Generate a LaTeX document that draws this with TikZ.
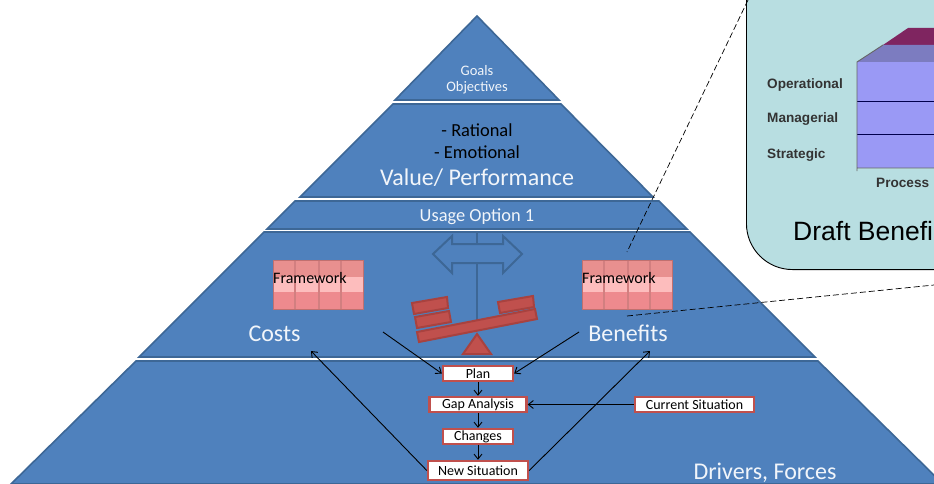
\documentclass[tikz,border=0pt]{standalone}
\usepackage{fontspec}
\setmainfont{Carlito}
\newfontfamily\arialfont{Liberation Sans}
\usetikzlibrary{arrows.meta}
\definecolor{pyrfill}{HTML}{4F81BD}
\definecolor{pyredge}{HTML}{3D6796}
\definecolor{redfill}{HTML}{C0504D}
\definecolor{rededge}{HTML}{A8423F}
\definecolor{tealbox}{HTML}{B8DEE1}
\definecolor{cubefront}{HTML}{9A99F5}
\definecolor{cubetop}{HTML}{7C7CC0}
\definecolor{cubemaroon}{HTML}{7F2560}
\definecolor{rowa}{HTML}{E8908F}
\definecolor{rowb}{HTML}{FDBDBD}
\definecolor{rowc}{HTML}{EE8A8E}
\definecolor{gridline}{HTML}{D27F80}
\definecolor{tableedge}{HTML}{C0706F}
\newcommand{\fsz}[1]{\fontsize{#1}{#1}\selectfont}
\newcommand{\fwtable}[2]{%
  \begin{scope}[shift={(#1,260)}]
    \fill[rowa] (0,0) rectangle (90,17);
    \fill[rowb] (0,17) rectangle (90,32);
    \fill[rowc] (0,32) rectangle (90,49);
    \draw[gridline,line width=1.2pt] (22,0) -- (22,49) (46,0) -- (46,49) (68,0) -- (68,49);
    \draw[tableedge,line width=1pt] (0,0) rectangle (90,49);
  \end{scope}
  \node[fwlabel,anchor=west] (#2) at (#1,278) {Framework};}
\tikzset{
  x=1pt,y=-1pt,
  level/.style={fill=pyrfill,draw=pyredge,line width=1.6pt,line join=miter},
  pale/.style={text=white!92!pyrfill,inner sep=0pt,align=center},
  dark/.style={text=black,inner sep=0pt},
  fwlabel/.style={text=black,inner sep=0pt,font=\fsz{16}},
  stepbox/.style={draw=redfill,fill=white,line width=2.4pt,text=black,inner sep=0pt,font=\fsz{14}},
  conn/.style={draw=black,line width=0.9pt,-{Straight Barb[length=5pt,width=8pt]}},
  redpart/.style={fill=redfill,draw=rededge,line width=2pt,line join=miter},
  signline/.style={draw=pyredge,line width=2pt},
  lead/.style={draw=black,line width=0.7pt,dash pattern=on 6pt off 3pt},
  cubeface/.style={fill=cubefront,draw=none},
  cubeline/.style={draw=#1,line width=0.9pt},
  cubetext/.style={text=black!80,inner sep=0pt,font=\arialfont\bfseries\fsz{13.6}},
}
\begin{document}
\begin{tikzpicture}
\useasboundingbox (0,0) rectangle (934,484);
\clip (0,0) rectangle (934,484);
% pyramid
\draw[level] (477,16) -- (559,100) -- (395,100) -- cycle;
\draw[level] (393,104) -- (561,104) -- (653,197) -- (300,197) -- cycle;
\draw[level] (295,201) -- (659,201) -- (687,229) -- (267,229) -- cycle;
\draw[level] (264,232) -- (690,232) -- (815,357) -- (139,357) -- cycle;
\draw[level] (136,361) -- (818,361) -- (943,484) -- (11,484) -- cycle;
% signpost
\draw[signline] (477,233) -- (477,244) (477,263) -- (477,320);
\draw[signline,line join=miter] (433,254) -- (452,236) -- (452,244) -- (503,244) -- (503,236) -- (522,254) -- (503,273) -- (503,263) -- (452,263) -- (452,273) -- cycle;
% seesaw
\draw[redpart] (412,303) -- (447,297) -- (448,308) -- (414,314) -- cycle;
\draw[redpart] (415,317) -- (449,311) -- (451,322) -- (417,328) -- cycle;
\draw[redpart] (498,302) -- (533,296) -- (534,307) -- (500,313) -- cycle;
\draw[redpart] (417,332) -- (535,309) -- (537,319) -- (419,342) -- cycle;
\draw[redpart] (463,354) -- (477,334) -- (491,354) -- cycle;
% frameworks
\fwtable{273}{fwleft}
\fwtable{582}{fwright}
% texts
\node[pale,font=\fontsize{14.5}{15.5}\selectfont,align=center] (goals) at (477,79.5) {Goals\\Objectives};
\node[dark,font=\fsz{18.4}] (rational) at (477,130.5) {- Rational};
\node[dark,font=\fsz{18.4}] (emotional) at (477,152.5) {- Emotional};
\node[pale,font=\fsz{24}] (value) at (477,178) {Value/ Performance};
\node[pale,font=\fsz{18.4}] (usage) at (477,217) {Usage Option 1};
\node[pale,font=\fsz{24}] (costs) at (274.5,333.5) {Costs};
\node[pale,font=\fsz{24}] (benefits) at (628,333.5) {Benefits};
\node[pale,font=\fsz{24}] (drivers) at (765,472.5) {Drivers, Forces};
% flow boxes
\path (478,373.5) node[stepbox,minimum width=70pt,minimum height=15pt] (plan) {Plan};
\path (478,404.5) node[stepbox,minimum width=97pt,minimum height=15pt] (gap) {Gap Analysis};
\path (478,436.5) node[stepbox,minimum width=70pt,minimum height=15pt] (changes) {Changes};
\path (478,470.5) node[stepbox,minimum width=100pt,minimum height=19pt] (newsit) {New Situation};
\path (694.5,404.5) node[stepbox,minimum width=119pt,minimum height=15pt] (current) {Current Situation};
% connectors
\coordinate (inleft) at (383,332);
\coordinate (inright) at (579,332);
\coordinate (outleft) at (311,351);
\coordinate (outright) at (650,351);
\draw[conn] (plan) -- (gap);
\draw[conn] (gap) -- (changes);
\draw[conn] (changes) -- (newsit);
\draw[conn] (current) -- (gap);
\draw[conn] (inleft) -- (plan.west);
\draw[conn] (inright) -- (plan.east);
\draw[conn] (newsit.west) -- (outleft);
\draw[conn] (newsit.east) -- (outright);
% inset
\node[draw=black,line width=0.9pt,fill=tealbox,rounded corners=46pt,minimum width=300pt,minimum height=370pt,anchor=south west,inner sep=0pt] (inset) at (746,270) {};
\fill[cubemaroon] (883,45) -- (908,28) -- (940,28) -- (940,45) -- cycle;
\fill[cubetop] (857,62) -- (883,45) -- (940,45) -- (940,62) -- cycle;
\fill[cubeface] (857,62) rectangle (940,168);
\draw[cubeline=black!70!blue] (857,101) -- (940,101) (857,134) -- (940,134);
\draw[cubeline=black!60] (857,168) -- (940,168) (857,171) -- (857,62) -- (883,45);
\node[cubetext,anchor=west] (oper) at (767,85) {Operational};
\node[cubetext,anchor=west] (manag) at (767,119.5) {Managerial};
\node[cubetext,anchor=west] (strat) at (767,155) {Strategic};
\node[cubetext,anchor=west] (proc) at (876,183) {Process};
\node[text=black,inner sep=0pt,anchor=west,font=\arialfont\fsz{26.5}] (draft) at (793,231) {Draft Benefi};
% leaders
\coordinate (leadA) at (748,0);
\coordinate (leadB) at (627,252);
\coordinate (leadC) at (627,316);
\coordinate (leadD) at (934,285);
\draw[lead] (leadA) -- (leadB);
\draw[lead] (leadC) -- (leadD);
\end{tikzpicture}
\end{document}
